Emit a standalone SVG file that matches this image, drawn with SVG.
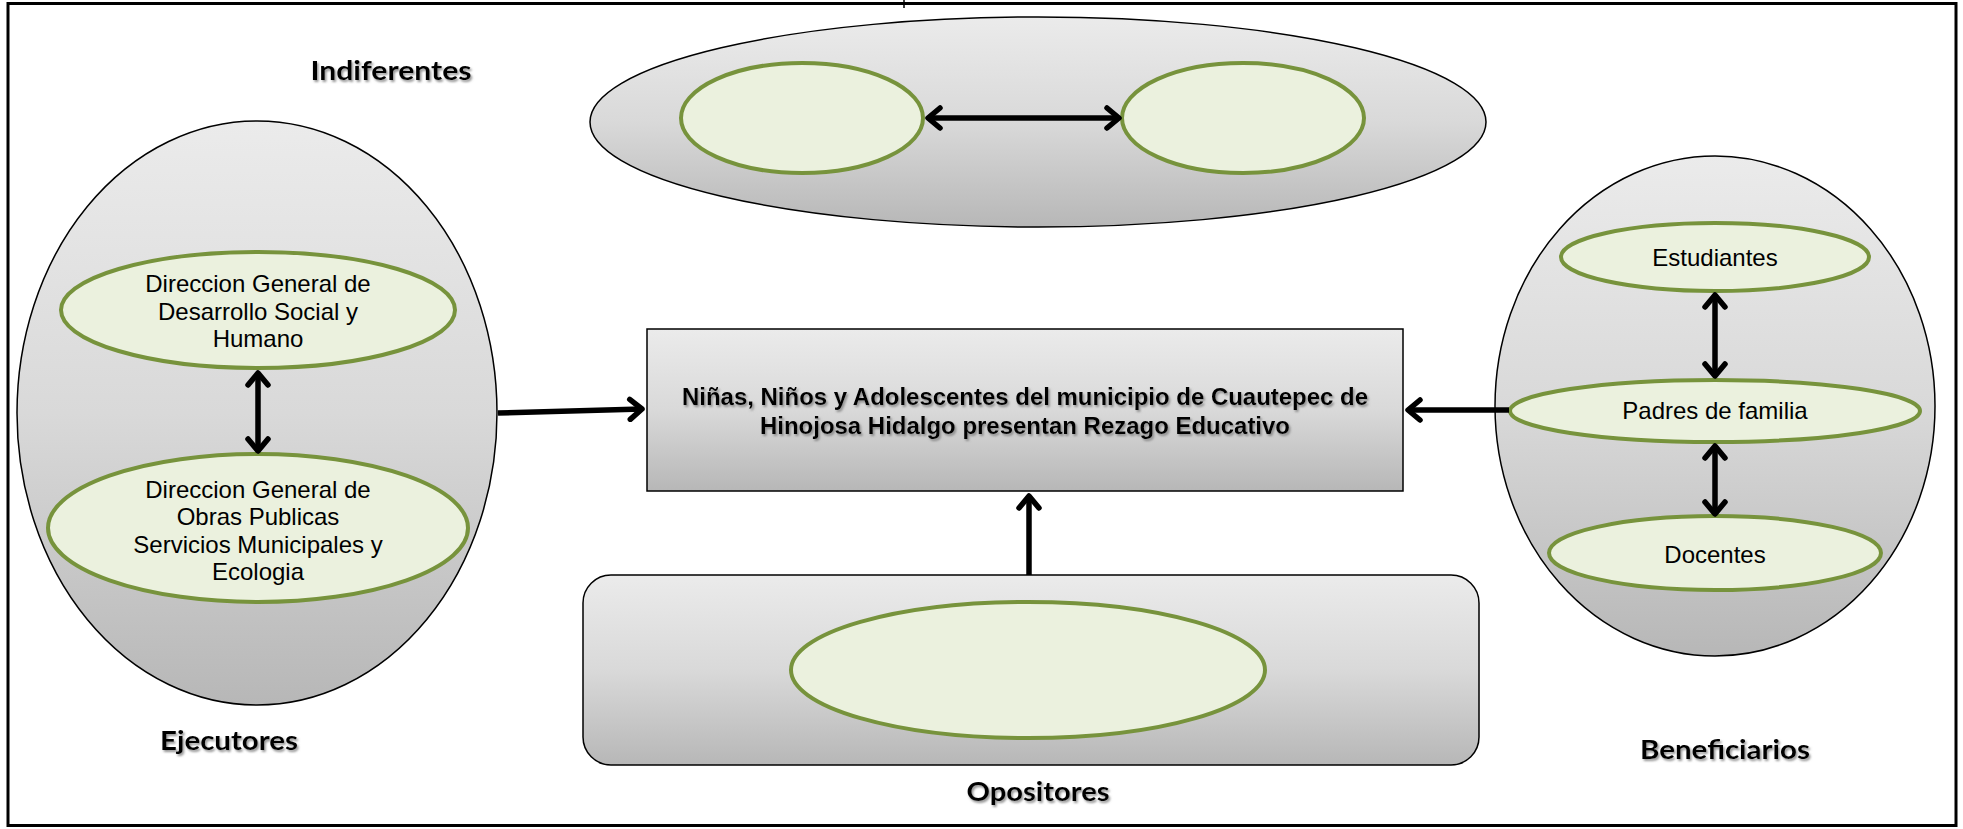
<svg xmlns="http://www.w3.org/2000/svg" width="1963" height="829" viewBox="0 0 1963 829">
<defs>
<linearGradient id="gry" x1="0" y1="0" x2="0" y2="1">
<stop offset="0" stop-color="#ebebeb"/>
<stop offset="0.5" stop-color="#d9d9d9"/>
<stop offset="1" stop-color="#b7b7b7"/>
</linearGradient>
<filter id="shd" x="-10%" y="-30%" width="120%" height="160%">
<feDropShadow dx="1.5" dy="2" stdDeviation="1.2" flood-color="#777" flood-opacity="0.8"/>
</filter>
<marker id="ah" viewBox="0 0 26 26" refX="20" refY="13" markerWidth="26" markerHeight="26" markerUnits="userSpaceOnUse" orient="auto-start-reverse">
<path d="M8,3 L20,13 L8,23" fill="none" stroke="#000" stroke-width="5.5" stroke-linecap="round" stroke-linejoin="round"/>
</marker>
</defs>
<style>
.grp{fill:url(#gry);stroke:#000;stroke-width:1.5}
.leaf{fill:#ebf1de;stroke:#77933c;stroke-width:4}
.t{font-family:"Liberation Sans",Arial,sans-serif;font-size:24px;fill:#000;text-anchor:middle}
.lbl{font-family:Lato,"Liberation Sans",sans-serif;font-weight:bold;font-size:26px;fill:#000;text-anchor:middle;filter:url(#shd)}
.ctr{font-family:"Liberation Sans",Arial,sans-serif;font-weight:bold;font-size:23px;fill:#000;text-anchor:middle;filter:url(#shd)}
.cn{fill:none;stroke:#000;stroke-width:5.5}
</style>
<rect width="1963" height="829" fill="#fff"/>
<g id="frame" fill="none" stroke="#000" stroke-width="3">
<rect x="8" y="3.5" width="1948" height="822"/>
<line x1="904" y1="0" x2="904" y2="8" stroke-width="1.5"/>
</g>

<g id="indiferentes">
<ellipse class="grp" cx="1038" cy="122" rx="448" ry="105"/>
<ellipse class="leaf" cx="802" cy="118" rx="121" ry="55"/>
<ellipse class="leaf" cx="1243" cy="118" rx="121" ry="55"/>
<text class="lbl" x="391" y="80" textLength="161" lengthAdjust="spacingAndGlyphs">Indiferentes</text>
</g>

<g id="ejecutores">
<ellipse class="grp" cx="257" cy="413" rx="240" ry="292"/>
<ellipse class="leaf" cx="258" cy="310" rx="197" ry="58"/>
<text class="t" x="258" y="292">Direccion General de</text>
<text class="t" x="258" y="320">Desarrollo Social y</text>
<text class="t" x="258" y="347">Humano</text>
<ellipse class="leaf" cx="258" cy="528" rx="210" ry="74"/>
<text class="t" x="258" y="498">Direccion General de</text>
<text class="t" x="258" y="525">Obras Publicas</text>
<text class="t" x="258" y="553">Servicios Municipales y</text>
<text class="t" x="258" y="580">Ecologia</text>
<text class="lbl" x="229" y="750" textLength="138" lengthAdjust="spacingAndGlyphs">Ejecutores</text>
</g>

<g id="problema">
<rect class="grp" x="647" y="329" width="756" height="162"/>
<text class="ctr" x="1025" y="405" textLength="686" lengthAdjust="spacingAndGlyphs">Niñas, Niños y Adolescentes del municipio de Cuautepec de</text>
<text class="ctr" x="1025" y="434" textLength="530" lengthAdjust="spacingAndGlyphs">Hinojosa Hidalgo presentan Rezago Educativo</text>
</g>

<g id="opositores">
<rect class="grp" x="583" y="575" width="896" height="190" rx="28" ry="28"/>
<ellipse class="leaf" cx="1028" cy="670" rx="237" ry="68"/>
<text class="lbl" x="1038" y="801" textLength="143" lengthAdjust="spacingAndGlyphs">Opositores</text>
</g>

<g id="beneficiarios">
<ellipse class="grp" cx="1715" cy="406" rx="220" ry="250"/>
<ellipse class="leaf" cx="1715" cy="257" rx="154" ry="34"/>
<text class="t" x="1715" y="266">Estudiantes</text>
<ellipse class="leaf" cx="1715" cy="411" rx="205" ry="31"/>
<text class="t" x="1715" y="419">Padres de familia</text>
<ellipse class="leaf" cx="1715" cy="553" rx="166" ry="37"/>
<text class="t" x="1715" y="563">Docentes</text>
<text class="lbl" x="1725" y="759" textLength="170" lengthAdjust="spacingAndGlyphs">Beneficiarios</text>
</g>

<g id="connectors">
<line class="cn" x1="928" y1="118" x2="1119" y2="118" marker-start="url(#ah)" marker-end="url(#ah)"/>
<line class="cn" x1="258" y1="373" x2="258" y2="451" marker-start="url(#ah)" marker-end="url(#ah)"/>
<line class="cn" x1="498" y1="413" x2="642" y2="409" marker-end="url(#ah)"/>
<line class="cn" x1="1509" y1="410" x2="1408" y2="410" marker-end="url(#ah)"/>
<line class="cn" x1="1029" y1="575" x2="1029" y2="496" marker-end="url(#ah)"/>
<line class="cn" x1="1715" y1="295" x2="1715" y2="376" marker-start="url(#ah)" marker-end="url(#ah)"/>
<line class="cn" x1="1715" y1="446" x2="1715" y2="514" marker-start="url(#ah)" marker-end="url(#ah)"/>
</g>
</svg>
